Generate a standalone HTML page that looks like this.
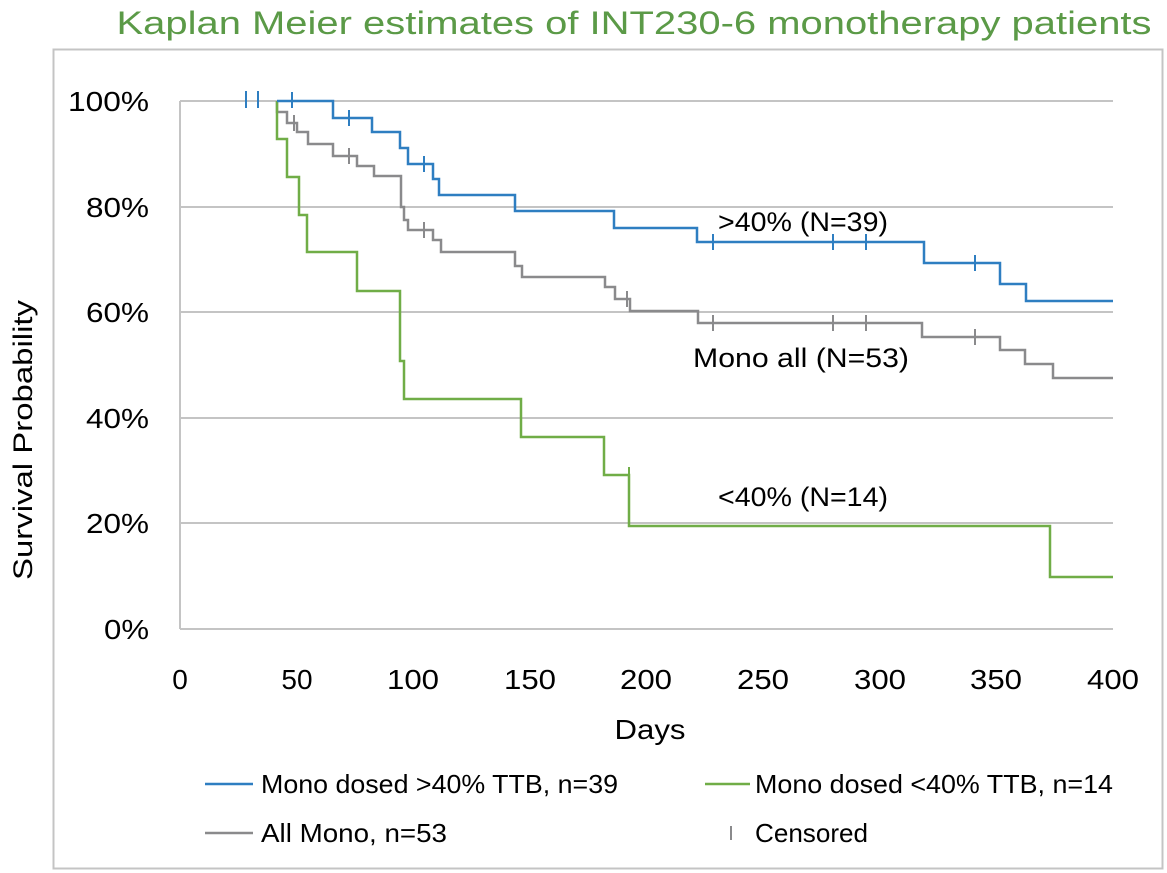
<!DOCTYPE html>
<html><head><meta charset="utf-8"><style>
html,body{margin:0;padding:0;background:#fff}
svg{display:block}
text{font-family:"Liberation Sans",sans-serif}
</style></head><body>
<svg width="1167" height="873" viewBox="0 0 1167 873" xmlns="http://www.w3.org/2000/svg">
<rect x="0" y="0" width="1167" height="873" fill="#fff"/>
<text x="634" y="34" text-anchor="middle" font-size="32" fill="#5B9A47" textLength="1035" lengthAdjust="spacingAndGlyphs">Kaplan Meier estimates of INT230-6 monotherapy patients</text>
<rect x="53.5" y="49.5" width="1109" height="819" fill="none" stroke="#C4C4C4" stroke-width="2"/>
<g stroke="#C4C4C4" stroke-width="2">
<line x1="180" y1="101" x2="1113" y2="101"/>
<line x1="180" y1="207" x2="1113" y2="207"/>
<line x1="180" y1="312" x2="1113" y2="312"/>
<line x1="180" y1="418" x2="1113" y2="418"/>
<line x1="180" y1="523" x2="1113" y2="523"/>
<line x1="180" y1="629" x2="1113" y2="629"/>
<line x1="180" y1="101" x2="180" y2="629"/>
</g>
<g font-size="28" fill="#000" text-anchor="end">
<text x="149" y="111" textLength="81" lengthAdjust="spacingAndGlyphs">100%</text>
<text x="149" y="217" textLength="63" lengthAdjust="spacingAndGlyphs">80%</text>
<text x="149" y="322" textLength="63" lengthAdjust="spacingAndGlyphs">60%</text>
<text x="149" y="428" textLength="63" lengthAdjust="spacingAndGlyphs">40%</text>
<text x="149" y="533" textLength="63" lengthAdjust="spacingAndGlyphs">20%</text>
<text x="149" y="639" textLength="45" lengthAdjust="spacingAndGlyphs">0%</text>
</g>
<g font-size="28" fill="#000" text-anchor="middle">
<text x="180" y="689">0</text>
<text x="297" y="689">50</text>
<text x="413" y="689" textLength="52" lengthAdjust="spacingAndGlyphs">100</text>
<text x="530" y="689" textLength="52" lengthAdjust="spacingAndGlyphs">150</text>
<text x="646" y="689" textLength="52" lengthAdjust="spacingAndGlyphs">200</text>
<text x="763" y="689" textLength="52" lengthAdjust="spacingAndGlyphs">250</text>
<text x="880" y="689" textLength="52" lengthAdjust="spacingAndGlyphs">300</text>
<text x="996" y="689" textLength="52" lengthAdjust="spacingAndGlyphs">350</text>
<text x="1113" y="689" textLength="52" lengthAdjust="spacingAndGlyphs">400</text>
<text x="650" y="739" textLength="71" lengthAdjust="spacingAndGlyphs">Days</text>
</g>
<text transform="translate(32,440) rotate(-90)" font-size="27" text-anchor="middle" textLength="280" lengthAdjust="spacingAndGlyphs">Survival Probability</text>
<g fill="none" stroke-width="2.5">
<polyline stroke="#8A8A8C" points="277,101 277,112 287,112 287,123 297,123 297,132 308,132 308,144 333,144 333,156 357,156 357,166 374,166 374,176 401,176 401,207 404,207 404,220 408,220 408,230 433,230 433,240 441,240 441,252 515,252 515,266 522,266 522,277 605,277 605,287 615,287 615,299 630,299 630,311 698,311 698,323 922,323 922,337 1000,337 1000,350 1025,350 1025,364 1053,364 1053,378 1113,378"/>
<polyline stroke="#70AD47" points="277,101 277,139 287,139 287,177 299,177 299,215 307,215 307,252 357,252 357,291 400,291 400,361 404,361 404,399 521,399 521,437 604,437 604,475 629,475 629,526 1050,526 1050,577 1113,577"/>
<polyline stroke="#2E7EC1" points="277,101 333,101 333,118 372,118 372,132 400,132 400,148 408,148 408,164 433,164 433,179 439,179 439,195 515,195 515,211 614,211 614,228 697,228 697,242 924,242 924,263 1000,263 1000,284 1026,284 1026,301 1113,301"/>
</g>
<g stroke-width="2">
<g stroke="#2E7EC1">
<line x1="246" y1="91" x2="246" y2="108"/><line x1="258" y1="91" x2="258" y2="108"/><line x1="292" y1="92" x2="292" y2="108"/>
<line x1="349" y1="110" x2="349" y2="126"/><line x1="424" y1="156" x2="424" y2="172"/>
<line x1="713" y1="234" x2="713" y2="250"/><line x1="833" y1="234" x2="833" y2="250"/><line x1="866" y1="234" x2="866" y2="250"/><line x1="975" y1="255" x2="975" y2="271"/>
</g>
<g stroke="#8A8A8C">
<line x1="294" y1="115" x2="294" y2="131"/><line x1="349" y1="148" x2="349" y2="164"/><line x1="424" y1="222" x2="424" y2="238"/>
<line x1="627" y1="291" x2="627" y2="307"/><line x1="713" y1="315" x2="713" y2="331"/><line x1="833" y1="315" x2="833" y2="331"/><line x1="866" y1="315" x2="866" y2="331"/><line x1="975" y1="329" x2="975" y2="345"/>
</g>
<line stroke="#70AD47" x1="629" y1="467" x2="629" y2="483"/>
</g>
<g font-size="27" fill="#000">
<text x="718" y="231" textLength="170" lengthAdjust="spacingAndGlyphs">&gt;40% (N=39)</text>
<text x="693" y="367" textLength="216" lengthAdjust="spacingAndGlyphs">Mono all (N=53)</text>
<text x="718" y="506" textLength="170" lengthAdjust="spacingAndGlyphs">&lt;40% (N=14)</text>
</g>
<g stroke-width="2.5">
<line x1="205" y1="784" x2="253" y2="784" stroke="#2E7EC1"/>
<line x1="205" y1="833" x2="253" y2="833" stroke="#8A8A8C"/>
<line x1="705" y1="784" x2="750" y2="784" stroke="#70AD47"/>
<line x1="731" y1="826" x2="731" y2="840" stroke="#8A8A8C" stroke-width="2"/>
</g>
<g font-size="26" fill="#000">
<text x="261" y="793" textLength="357" lengthAdjust="spacingAndGlyphs">Mono dosed &gt;40% TTB, n=39</text>
<text x="261" y="842" textLength="186" lengthAdjust="spacingAndGlyphs">All Mono, n=53</text>
<text x="755" y="793" textLength="358" lengthAdjust="spacingAndGlyphs">Mono dosed &lt;40% TTB, n=14</text>
<text x="755" y="842" textLength="113" lengthAdjust="spacingAndGlyphs">Censored</text>
</g>
</svg>
</body></html>
